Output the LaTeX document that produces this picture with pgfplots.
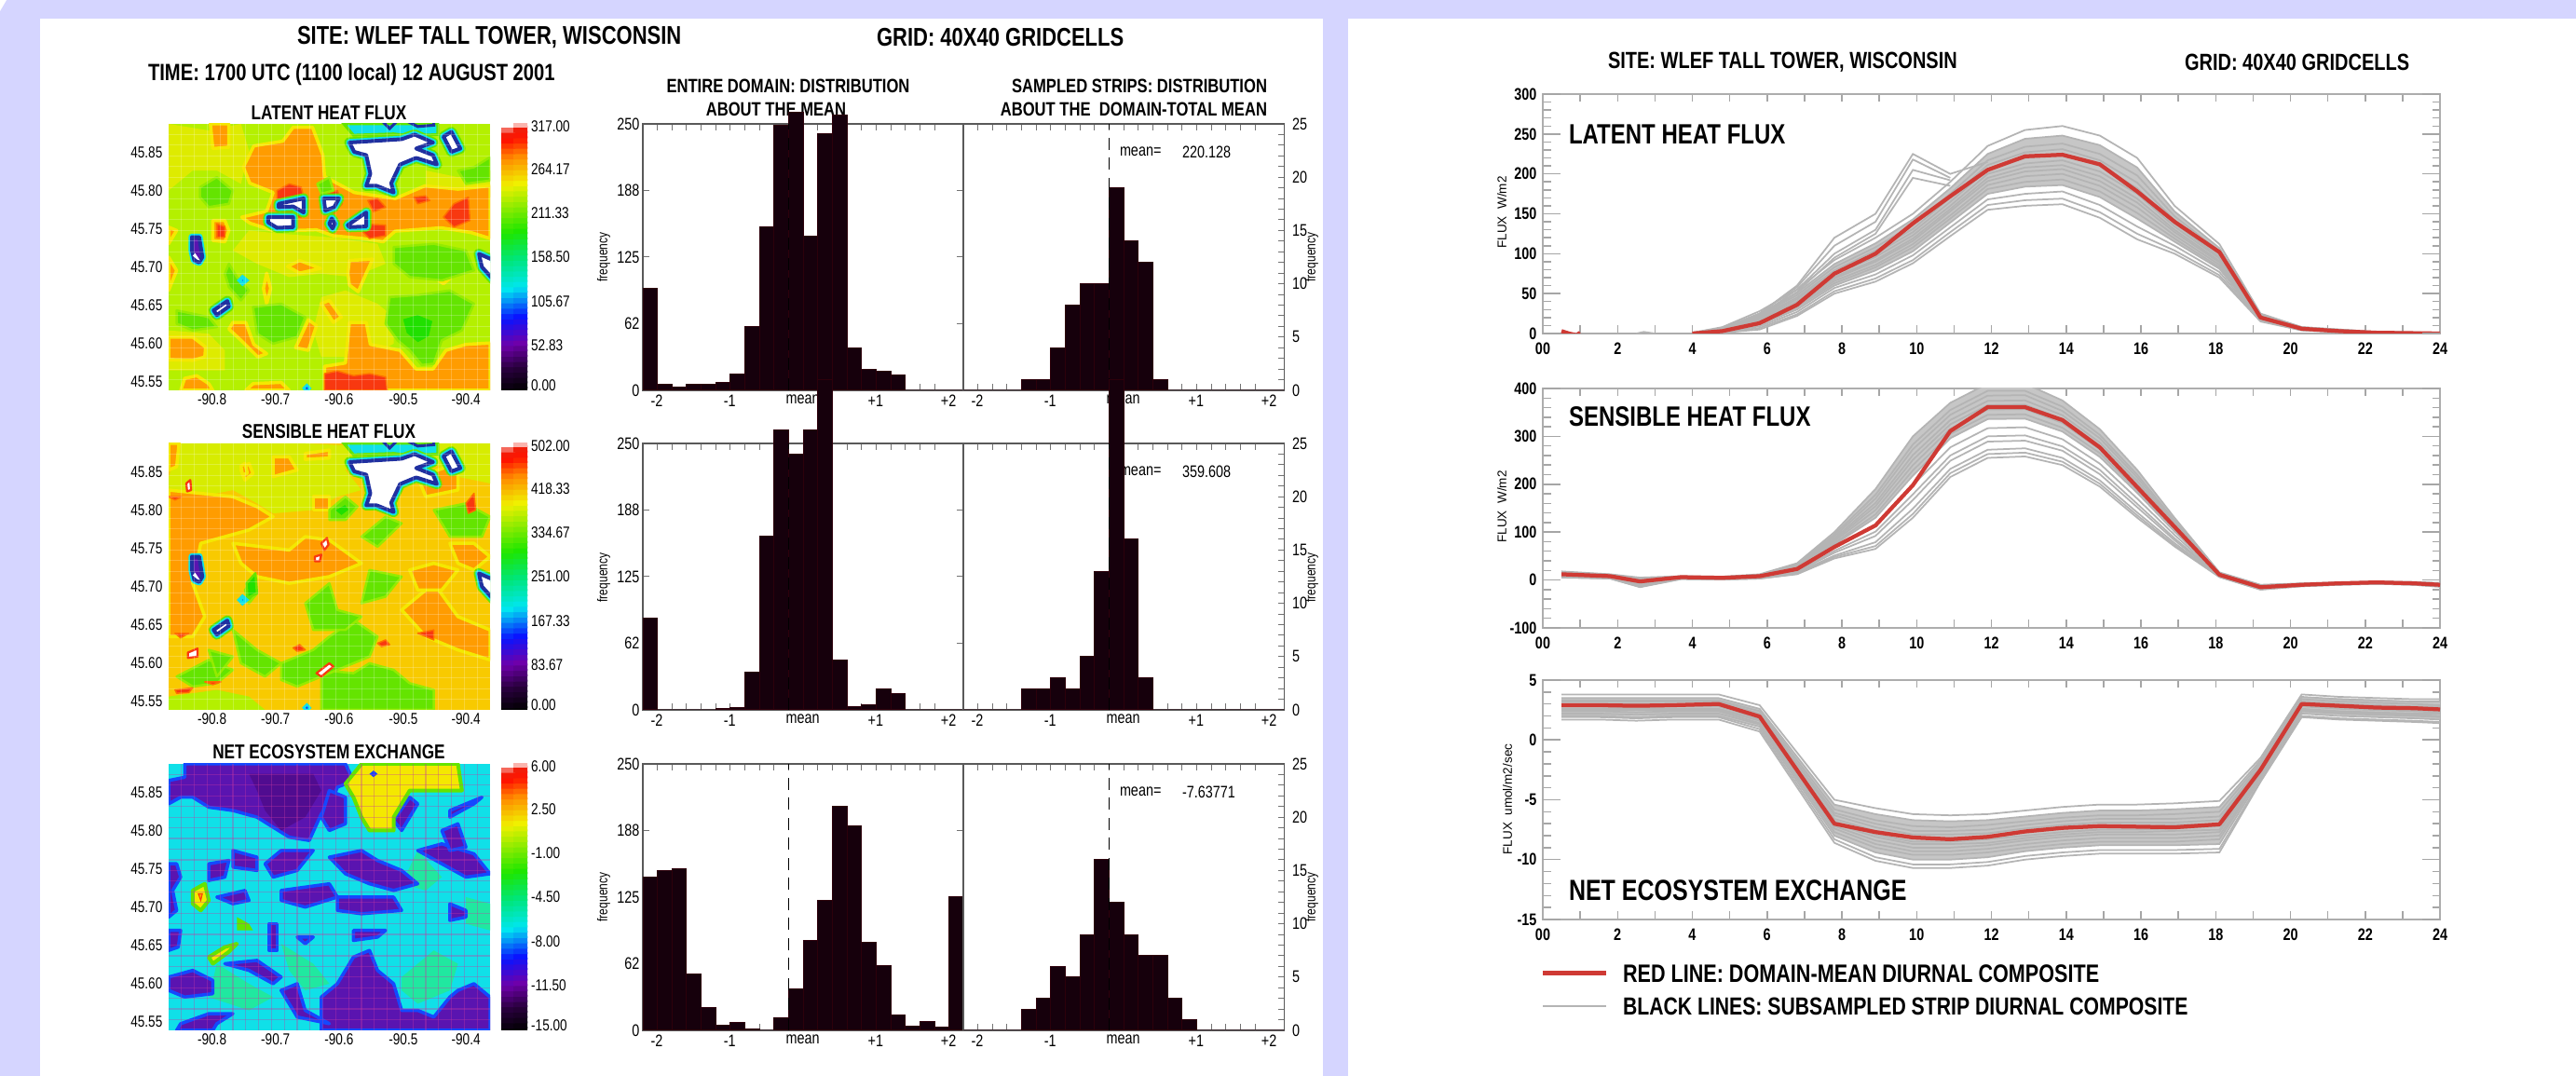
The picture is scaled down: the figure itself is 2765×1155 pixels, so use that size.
\documentclass[border=0pt]{standalone}
\usepackage{fontspec}
\usepackage{pgfplots}
\usepackage{pgfplotstable}
\pgfplotsset{compat=1.18}
\setmainfont{Liberation Sans}
\newfontfamily\cond{Liberation Sans}[FakeStretch=0.8]
\newcommand\fs[1]{\fontsize{#1}{#1}\selectfont}
\definecolor{bgl}{HTML}{D5D5FF}
\definecolor{cOr}{HTML}{FF9C00}
\definecolor{cYe}{HTML}{F4E800}
\definecolor{cLi}{HTML}{B4F000}
\definecolor{cGr}{HTML}{64E400}
\definecolor{cBg}{HTML}{20E000}
\definecolor{cRe}{HTML}{F83810}
\definecolor{cNa}{HTML}{2030A0}
\definecolor{cCy}{HTML}{10E0E8}
\definecolor{cPu}{HTML}{5A14B0}
\definecolor{cDp}{HTML}{500C90}
\definecolor{cBl}{HTML}{1448FF}
\definecolor{cAq}{HTML}{20E8A0}
\definecolor{cBar}{HTML}{16000C}
\definecolor{cLine}{HTML}{B4B4B4}
\definecolor{cCore}{HTML}{C6C6C6}
\definecolor{cRed}{HTML}{CF3A34}
\pgfplotsset{
  colormap={idl}{rgb255(0)=(0,0,0); rgb255(90)=(40,0,60); rgb255(180)=(110,0,170); rgb255(280)=(10,20,255); rgb255(390)=(0,230,240); rgb255(500)=(0,230,120); rgb255(600)=(30,230,0); rgb255(780)=(240,240,0); rgb255(880)=(255,140,0); rgb255(950)=(255,20,0); rgb255(985)=(240,30,10); rgb255(1000)=(255,255,255)},
  mapax/.style={scale only axis,width=69pt,height=57.2pt,xmin=0,xmax=40,ymin=0,ymax=40,axis on top,
    xtick={5.4,13.3,21.2,29.2,37},xticklabels={-90.8,-90.7,-90.6,-90.5,-90.4},
    ytick={1.26,7,12.8,18.5,24.2,30,35.7},yticklabels={45.55,45.60,45.65,45.70,45.75,45.80,45.85},
    minor xtick={1.6,3.2,...,38.4},minor ytick={1.6,3.2,...,38.4},xminorgrids,yminorgrids,
    minor grid style={white,opacity=.22,line width=.2pt},
    axis line style={draw=none},tick style={draw=none},major tick length=0pt,minor tick length=0pt,
    tick label style={font=\cond\fs{3.4}},xticklabel shift=-2.8pt,yticklabel shift=-2.2pt},
  cbax/.style={scale only axis,width=5.6pt,height=57.2pt,xmin=0,xmax=1,ymin=0,ymax=1,
    xtick=\empty,ytick={.017,.17,.333,.5,.667,.83,.99},yticklabel pos=right,ytick pos=right,
    axis line style={draw=none},tick style={draw=none},major tick length=0pt,
    tick label style={font=\cond\fs{3.4}},yticklabel shift=-2.7pt,yticklabel style={anchor=west}},
  hb/.style={scale only axis,width=68.9pt,height=57.2pt,xmin=-2,xmax=2.4,ymin=0,clip=false,
    xtick={-2,-1,0,1,2},xticklabels={-2,-1,mean,+1,+2},minor x tick num=4,
    tick align=inside,xtick pos=both,xticklabel pos=bottom,
    major tick length=1.4pt,minor tick length=1.4pt,
    axis line style={line width=.3pt,draw=black!65},
    tick style={line width=.2pt,draw=black!55},
    tick label style={font=\cond\fs{3.6}},xticklabel style={xshift=3pt},xticklabel shift=-2.6pt},
  hleft/.style={hb,ymax=250,ytick={0,62.5,125,187.5,250},yticklabels={0,62,125,188,250},ytick pos=both,yticklabel pos=left,yticklabel shift=-2.8pt},
  hright/.style={hb,ymax=25,ytick={0,5,10,15,20,25},yticklabels={0,5,10,15,20,25},minor y tick num=4,ytick pos=right,yticklabel pos=right,yticklabel shift=-1.8pt},
  bars/.style={ybar interval,fill=cBar,draw=cBar!90!red,line width=.2pt},
  dsh/.style={black,line width=.3pt,dash pattern=on 2.6pt off 1.7pt},
  rp/.style={scale only axis,width=192.6pt,height=51.4pt,xmin=0,xmax=24,axis line style={line width=.4pt,draw=black!32},
    xtick={0,2,...,24},xticklabels={00,2,4,6,8,10,12,14,16,18,20,22,24},minor x tick num=1,
    tick align=inside,xtick pos=both,ytick pos=both,xticklabel pos=bottom,yticklabel pos=left,
    major tick length=1.7pt,minor tick length=1.7pt,tick style={line width=.3pt,draw=black!35},
    tick label style={font=\cond\bfseries\fs{3.6}},xticklabel shift=-1.5pt,yticklabel shift=-2.2pt},
  rp2/.style={scale only axis,width=192.6pt,height=51.4pt,xmin=0,xmax=24,axis line style={draw=none},
    xtick=\empty,yticklabels={},tick align=inside,ytick pos=both,major tick length=3.8pt,tick style={line width=.3pt,draw=black!35}},
  gl/.style={cLine,line width=.35pt},
  core/.style={fill=cCore,draw=none},
  rl/.style={cRed,line width=.85pt,line join=round},
  org/.style={fill=cOr,draw=cYe,line width=.7pt,line join=round},
  redb/.style={fill=cRe,draw=cOr!70!red,line width=.3pt,line join=round},
  yel/.style={fill=cYe!65!cLi,draw=none},
  lim/.style={fill=cLi,draw=none},
  grn/.style={fill=cGr,draw=cLi!60!cGr,line width=.5pt,line join=round},
  bgr/.style={fill=cBg,draw=cGr,line width=.5pt,line join=round},
  hole/.style={fill=white,draw=cNa,line width=.8pt,line join=round,
     preaction={draw=cGr,line width=2.2pt},preaction={draw=cCy,line width=1.5pt}},
  hre/.style={fill=white,draw=cRe,line width=.45pt,line join=round},
  nhole/.style={fill=cPu,draw=cNa,line width=.8pt,line join=round,preaction={draw=cCy,line width=1.5pt}},
  pur/.style={fill=cPu,draw=cBl,line width=.7pt,line join=round},
  dpr/.style={fill=cDp,draw=none},
  aqu/.style={fill=cAq,draw=none},
  ylw/.style={fill=cYe,draw=cGr,line width=.8pt,line join=round},
}
\newcommand\PP[2]{\addplot[#1] coordinates {#2} --cycle;}
\newcommand\CB{\addplot[matrix plot*,shader=flat,draw=none,mesh/cols=2,point meta=explicit,point meta min=0,point meta max=1] coordinates {
(0,0)[0](1,0)[0](0,.02)[.02](1,.02)[.02](0,.04)[.04](1,.04)[.04](0,.06)[.06](1,.06)[.06](0,.08)[.08](1,.08)[.08](0,.1)[.1](1,.1)[.1](0,.12)[.12](1,.12)[.12](0,.14)[.14](1,.14)[.14](0,.16)[.16](1,.16)[.16](0,.18)[.18](1,.18)[.18](0,.2)[.2](1,.2)[.2](0,.22)[.22](1,.22)[.22](0,.24)[.24](1,.24)[.24](0,.26)[.26](1,.26)[.26](0,.28)[.28](1,.28)[.28](0,.3)[.3](1,.3)[.3](0,.32)[.32](1,.32)[.32](0,.34)[.34](1,.34)[.34](0,.36)[.36](1,.36)[.36](0,.38)[.38](1,.38)[.38](0,.4)[.4](1,.4)[.4](0,.42)[.42](1,.42)[.42](0,.44)[.44](1,.44)[.44](0,.46)[.46](1,.46)[.46](0,.48)[.48](1,.48)[.48](0,.5)[.5](1,.5)[.5](0,.52)[.52](1,.52)[.52](0,.54)[.54](1,.54)[.54](0,.56)[.56](1,.56)[.56](0,.58)[.58](1,.58)[.58](0,.6)[.6](1,.6)[.6](0,.62)[.62](1,.62)[.62](0,.64)[.64](1,.64)[.64](0,.66)[.66](1,.66)[.66](0,.68)[.68](1,.68)[.68](0,.7)[.7](1,.7)[.7](0,.72)[.72](1,.72)[.72](0,.74)[.74](1,.74)[.74](0,.76)[.76](1,.76)[.76](0,.78)[.78](1,.78)[.78](0,.8)[.8](1,.8)[.8](0,.82)[.82](1,.82)[.82](0,.84)[.84](1,.84)[.84](0,.86)[.86](1,.86)[.86](0,.88)[.88](1,.88)[.88](0,.9)[.9](1,.9)[.9](0,.92)[.92](1,.92)[.92](0,.94)[.94](1,.94)[.94](0,.96)[.96](1,.96)[.96](0,.98)[.98](1,.98)[.98](0,1)[1](1,1)[1]};}
\newcommand\holes{%
 \PP{fill=cCy,draw=cGr,line width=.6pt}{(21.8,40)(33.5,40)(33.5,38.4)(30,38.2)(28,38.5)(23,38.3)}
 \PP{hole}{(22.5,37.2)(29,37.7)(30.6,38.4)(32.9,37.2)(30.8,36.3)(32.9,35.3)(33.4,33.9)(30.8,34.9)(28.8,33.9)(27.7,31.1)(28,29.7)(25.9,30.7)(24.6,30.7)(25.1,32.5)(24.6,35.3)(23.1,35.8)}
 \PP{hole}{(34.2,38.1)(35.2,38.8)(36.3,36.3)(35.2,35.8)}
 \PP{draw=cNa,line width=.6pt,fill=none}{(26.5,40.5)(27.5,39.3)(28.5,40.5)}
 \PP{draw=cNa,line width=.6pt,fill=none}{(29.5,40.5)(31,39.6)(33,39.8)(33,40.5)}
 \PP{hole}{(38.6,20.5)(40.5,19.5)(40.5,16.5)(39,18.5)}
 \PP{hole}{(5.6,12)(7.3,13.4)(7.5,12.6)(6,11.3)}
 \PP{nhole}{(2.9,23)(3.8,23)(4.2,20)(3.8,19.2)(3.2,19.5)(2.9,21)}
 \PP{fill=white,draw=none}{(3,20.2)(3.6,19.6)(3.9,19.5)(3.3,20.6)}
 \PP{fill=cBl,draw=cCy,line width=.8pt}{(8.8,16.5)(9.2,17)(9.7,16.5)(9.2,16)}
}
% diurnal composites
\pgfplotstableread{
4 0 0 0 0 0 0 0 0 0 0 0 0 1 1
4.8 1 1 2 3 3 4 4 4 5 5 6 6 7 8
5.8 5 7 9 11 12 14 15 16 18 19 21 23 25 28
6.8 22 24 27 30 33 35 37 38 40 43 45 48 51 55
7.8 50 53 57 60 63 66 69 71 74 76 79 83 87 92
8.9 65 69 74 79 83 86 90 92 96 100 104 108 113 120
9.9 88 92 98 103 108 112 116 119 123 127 131 136 143 150
10.9 122 127 133 139 144 148 153 156 160 165 170 175 182 190
11.9 155 161 168 175 181 186 191 195 200 205 211 217 225 235
12.9 160 167 175 184 190 197 203 208 213 220 227 234 244 255
13.9 162 169 178 186 193 200 206 211 217 224 231 238 248 260
14.9 145 152 161 171 178 185 191 197 203 210 217 225 236 248
15.9 118 125 134 144 151 158 164 169 175 182 189 198 208 220
16.9 100 104 110 115 119 123 127 130 134 138 142 147 153 160
18.1 70 73 77 81 83 86 89 91 94 96 99 103 107 112
19.2 15 16 17 18 18 19 19 20 21 21 22 23 24 25
20.3 4 4 5 5 5 6 6 6 6 7 7 7 8 8
21.3 2 2 2 3 3 3 3 3 4 4 4 4 5 5
22.3 0 0 0 1 1 1 1 1 1 1 1 2 2 2
24 0 0 0 0 0 0 0 0 0 0 0 0 1 1
}\tabL
\pgfplotstableread{
0.5 5 6 6 8 9 10 12 13 13 14 15 16 17 18
1.8 3 3 4 5 6 7 8 8 9 9 10 11 11 12
2.6 -15 -14 -13 -11 -9 -7 -5 -3 -2 -1 0 2 3 5
3.7 2 2 3 3 4 4 5 5 6 6 7 7 7 8
4.8 1 1 2 2 3 3 4 4 5 5 6 6 6 7
5.8 3 3 4 5 6 7 8 8 9 9 10 11 11 12
6.8 12 13 15 17 19 21 24 25 27 28 30 31 33 35
7.8 45 48 51 57 61 67 74 77 81 84 87 91 95 100
8.9 65 71 79 92 101 115 130 137 146 154 161 170 178 190
9.9 130 138 149 167 179 198 218 229 240 251 261 273 283 300
10.9 215 223 232 249 260 277 296 305 316 325 334 345 355 370
11.9 255 263 272 289 300 317 336 345 356 365 374 385 395 410
12.9 258 266 275 291 302 319 337 346 357 366 375 386 395 410
13.9 240 247 255 270 279 294 310 318 328 336 344 353 362 375
14.9 195 201 208 221 230 243 257 265 273 280 287 296 303 315
15.9 130 135 141 152 159 170 182 188 195 201 207 214 220 230
16.9 70 73 77 83 87 94 101 105 109 113 116 120 124 130
18.1 6 7 7 8 9 10 11 12 13 13 14 14 15 16
19.2 -20 -20 -19 -18 -17 -16 -15 -14 -14 -13 -12 -12 -11 -10
20.3 -13 -13 -12 -12 -11 -11 -10 -10 -9 -9 -8 -8 -8 -7
21.3 -10 -10 -9 -9 -9 -8 -7 -7 -7 -6 -6 -6 -6 -5
22.3 -8 -8 -7 -7 -7 -6 -5 -5 -5 -4 -4 -4 -4 -3
23.3 -10 -10 -9 -9 -8 -8 -7 -7 -6 -6 -5 -5 -5 -4
24 -14 -14 -13 -12 -12 -11 -10 -9 -9 -8 -8 -7 -7 -6
}\tabS
\pgfplotstableread{
0.5 1.7 1.9 2.0 2.2 2.4 2.5 2.6 2.8 2.9 3.0 3.2 3.3 3.5 3.8
1.5 1.7 1.9 2.0 2.2 2.4 2.5 2.6 2.8 2.9 3.0 3.2 3.3 3.5 3.8
2.5 1.6 1.8 1.9 2.1 2.3 2.5 2.6 2.7 2.9 3.0 3.2 3.3 3.5 3.8
3.5 1.7 1.9 2.0 2.2 2.4 2.5 2.6 2.8 2.9 3.0 3.2 3.3 3.5 3.8
4.7 1.7 1.9 2.0 2.2 2.4 2.5 2.6 2.8 2.9 3.0 3.2 3.3 3.5 3.8
5.8 0.7 0.9 1.1 1.3 1.4 1.6 1.7 1.8 1.9 2.1 2.2 2.4 2.6 2.9
7.8 -8.6 -8.3 -8.0 -7.7 -7.4 -7.2 -7.0 -6.8 -6.6 -6.3 -6.1 -5.8 -5.4 -5.0
8.9 -10.1 -9.8 -9.4 -9.0 -8.7 -8.4 -8.1 -7.9 -7.6 -7.3 -7.0 -6.7 -6.2 -5.7
9.9 -10.7 -10.4 -10.0 -9.6 -9.3 -9.0 -8.7 -8.5 -8.2 -7.9 -7.6 -7.2 -6.7 -6.2
10.9 -10.7 -10.4 -10.0 -9.6 -9.3 -9.0 -8.7 -8.5 -8.2 -7.9 -7.6 -7.3 -6.8 -6.3
11.9 -10.5 -10.2 -9.8 -9.4 -9.1 -8.8 -8.6 -8.3 -8.1 -7.8 -7.5 -7.1 -6.7 -6.2
12.9 -10.0 -9.7 -9.3 -9.0 -8.7 -8.4 -8.2 -8.0 -7.7 -7.4 -7.1 -6.8 -6.4 -5.9
13.9 -9.7 -9.4 -9.0 -8.7 -8.4 -8.1 -7.9 -7.7 -7.4 -7.1 -6.8 -6.5 -6.1 -5.6
14.9 -9.5 -9.2 -8.8 -8.5 -8.2 -7.9 -7.7 -7.5 -7.2 -6.9 -6.6 -6.3 -5.9 -5.4
15.9 -9.5 -9.2 -8.8 -8.5 -8.2 -7.9 -7.7 -7.5 -7.2 -6.9 -6.6 -6.3 -5.9 -5.4
16.9 -9.5 -9.2 -8.8 -8.5 -8.2 -7.9 -7.6 -7.4 -7.1 -6.9 -6.6 -6.2 -5.8 -5.3
18.1 -9.4 -9.1 -8.7 -8.3 -8.0 -7.7 -7.5 -7.2 -7.0 -6.7 -6.4 -6.0 -5.6 -5.1
19.2 -3.5 -3.4 -3.2 -3.0 -2.9 -2.7 -2.6 -2.5 -2.4 -2.2 -2.1 -1.9 -1.7 -1.5
20.3 1.9 2.0 2.2 2.4 2.5 2.6 2.8 2.9 3.0 3.1 3.2 3.4 3.6 3.8
21.3 1.7 1.8 2.0 2.2 2.3 2.4 2.6 2.7 2.8 2.9 3.0 3.2 3.4 3.6
22.3 1.6 1.7 1.9 2.1 2.2 2.3 2.5 2.6 2.7 2.8 2.9 3.1 3.3 3.5
23.3 1.5 1.6 1.8 2.0 2.1 2.2 2.4 2.5 2.6 2.7 2.8 3.0 3.2 3.4
24 1.4 1.5 1.7 1.9 2.0 2.2 2.3 2.4 2.5 2.7 2.8 2.9 3.2 3.4
}\tabN
\begin{document}
\begin{tikzpicture}[x=0.2pt,y=-0.2pt]
\useasboundingbox (0,0) rectangle (2765,1155);
\fill[bgl] (0,0) rectangle (2765,1155);
\fill[white] (0,0)--(7,0)--(0,12)--cycle;
\fill[white] (43,20) rectangle (1420,1155);
\fill[white] (1447,20) rectangle (2765,1155);
% left panel texts
\begin{scope}[every node/.style={inner sep=0pt,font=\cond\bfseries}]
\node[anchor=west,font=\cond\bfseries\fs{5.5}] at (318,40) {SITE: WLEF TALL TOWER, WISCONSIN};
\node[anchor=west,font=\cond\bfseries\fs{5.5}] at (940,40) {GRID: 40X40 GRIDCELLS};
\node[anchor=west,font=\cond\bfseries\fs{5.05}] at (158,80) {TIME: 1700 UTC (1100 local) 12 AUGUST 2001};
\node[font=\cond\bfseries\fs{4.3}] at (353,121) {LATENT HEAT FLUX};
\node[font=\cond\bfseries\fs{4.3}] at (353,463) {SENSIBLE HEAT FLUX};
\node[font=\cond\bfseries\fs{4.3}] at (353,807) {NET ECOSYSTEM EXCHANGE};
\node[font=\cond\bfseries\fs{4.15}] at (846,92) {ENTIRE DOMAIN: DISTRIBUTION};
\node[font=\cond\bfseries\fs{4.15}] at (833,117) {ABOUT THE MEAN};
\node[anchor=east,font=\cond\bfseries\fs{4.15}] at (1361,92) {SAMPLED STRIPS: DISTRIBUTION};
\node[anchor=east,font=\cond\bfseries\fs{4.15}] at (1361,117) {ABOUT THE\ \ DOMAIN-TOTAL MEAN};
\foreach \yy/\ee/\tt in {163/{mean=}/220.128,506/{mean=}/359.608,850/{mean=}/-7.63771}{
 \node[anchor=west,font=\cond\fs{3.6}] at (1201,\yy) {\ee};
 \node[anchor=west,font=\cond\fs{3.6}] at (1268,\yy) {\tt};
}
\foreach \yy in {276,620,963}{
 \node[rotate=90,font=\cond\fs{3}] at (648,\yy) {frequency};
 \node[rotate=90,font=\cond\fs{3}] at (1408,\yy) {frequency};
}
\end{scope}
% maps
\begin{axis}[mapax,at={(181*0.2pt,-419*0.2pt)},anchor=south west,axis background/.style={fill=cLi}]
\PP{yel}{(0,40)(5,39)(9,40)(10,36)(9,31)(6,33)(3,33)(0,30)}
\PP{yel}{(32,33)(36,32)(40,33)(40,29)(32,29)}
\PP{yel}{(10,24)(14,23.5)(20,23)(26,22)(27,19)(23,17)(19,17.5)(15,17)(11,19)(8,21)}
\PP{yel}{(19,14)(22,15)(26,13)(28,11)(28,7)(25,5)(19,5)(18,9)}
\PP{yel}{(0,9)(5,8.5)(7,6)(7,3)(3,3)(0,3)}
\PP{org}{(15.5,39.5)(17.9,39.5)(19.2,35.3)(19.4,32.1)(23.1,29.7)(28.2,28.8)(31.9,30.7)(36,30.2)(40,30.7)(40,22.8)(37.6,23.7)(33.9,24.4)(28.2,23.9)(26.7,22.3)(24.1,22.8)(20.5,23.2)(18.4,24.1)(13.2,23.9)(10.1,25.1)(9.1,26)(12.2,26.9)(13,29.7)(10.1,31.1)(9.3,33.5)(10.6,36.7)(14.2,37.4)}
\PP{org}{(5.2,40)(7.5,40)(7.5,36.5)(5.5,36.3)}
\PP{org}{(5.5,25.5)(7,25.5)(7.5,24)(7,22.3)(5.5,22.5)}
\PP{org}{(0,8)(3,8)(4.6,6.5)(4.5,5)(3,4.5)(0,4.6)}
\PP{org}{(19.4,0)(19.4,3.6)(22,4.1)(22.5,10.2)(24.6,10.2)(25.1,6.9)(28.8,6)(30.8,3.2)(32.9,3.2)(34.5,6)(37,6.9)(40,7.1)(40,0)}
\PP{org}{(8,10.2)(9.6,10.2)(10.6,6.9)(12.2,5.5)(11.1,5)(9.1,7.4)(7.5,9.2)}
\PP{org}{(17.4,10.6)(18.4,9.7)(17.4,6)(15.8,6.4)}
\PP{org}{(22.5,19.5)(25.4,19.7)(24.6,17.6)(23.6,14.8)(22.5,15.8)(22.3,17.6)}
\PP{org}{(14.8,18.6)(16.3,19.5)(18.9,18.3)(16.3,17.6)}
\PP{org}{(12.2,17.6)(12.7,15.3)(12.2,13)(11.8,15.3)}
\PP{org}{(0,24.5)(1,24)(0,22)}
\PP{org}{(0,20)(1,18)(0,15)}
\PP{org}{(1.5,0)(2,1.8)(3.5,2.2)(5,1)(5.5,0)}
\PP{org}{(9.6,0)(10.5,1)(14,1.2)(15,0)}
\PP{org}{(33,17)(34.2,17.8)(35.2,17)(34.2,16)}
\PP{org}{(19,13)(20,13.5)(21.5,11)(20.5,10.2)}
\PP{redb}{(19.4,0)(19.4,2.5)(21,2.9)(23,2.2)(25,2.5)(27,2)(27.2,0)}
\PP{redb}{(13.5,30)(15,31)(16.5,30.5)(17,28)(16.5,26)(13.5,26)}
\PP{redb}{(19.6,29.5)(21,30)(21.6,28)(20.5,26.5)(19.4,27.5)}
\PP{redb}{(24.8,28.5)(26,28.8)(27,27.5)(25.5,26.8)}
\PP{redb}{(34.2,26)(35.5,28)(37.3,29)(37.5,25.5)(35.5,24.5)}
\PP{redb}{(30.5,29)(32,29.2)(32.5,28.5)(31,28)}
\PP{redb}{(24,25)(27,24.8)(27,23.2)(25,22.8)(24,24)}
\PP{redb}{(6,25)(7,24.6)(7,23)(6,23)}
\PP{grn}{(3.9,30.5)(6,32)(8,30)(7.5,28)(5,27.5)(3.9,29)}
\PP{grn}{(27.5,14)(31,14.3)(35,15)(38,13)(36.5,9)(34,7.5)(33,4)(31.5,3.8)(30,6)(28.5,7.5)(27,10)}
\PP{bgr}{(29,10.8)(31,11.5)(33,10.5)(32.5,8)(31,7)(29.5,8.5)}
\PP{grn}{(10.5,12.5)(14,13)(17,11)(16,8)(13,7)(11,8.5)}
\PP{grn}{(1,12)(5,11)(6,9.5)(3,9)(1,10)}
\PP{grn}{(7.5,19)(8.5,17)(10,15)(9,13.5)(7.5,15.5)(7,17.5)}
\PP{grn}{(28,21.5)(33,22)(37,21)(38,18)(34,16.5)(30,17)(28,19)}
\PP{grn}{(36,33)(38,33.5)(40,35)(40,31.5)(37,31)}
\PP{grn}{(18.5,31)(20,32)(20.5,30)(19,29.5)}
\holes
\PP{hole}{(12.4,26)(15.5,26)(15.5,24.5)(13.5,24.4)(12.4,25.2)}
\PP{hole}{(13.7,28)(16.8,28.8)(16.8,26.7)(15.5,27.6)(13.7,27.5)}
\PP{hole}{(19.3,28.8)(21.2,28.8)(20.6,27.5)(19.5,27)}
\PP{hole}{(22.3,24.8)(24.6,26.7)(24.6,24.6)(22.5,24.5)}
\PP{hole}{(20.3,25.8)(20.7,25)(20.4,24.3)(20,25)}
\PP{fill=cBl,draw=cCy,line width=.5pt}{(16.8,.3)(17.2,.8)(17.6,.3)(17.2,-.2)}
\end{axis}
\begin{axis}[cbax,at={(538*0.2pt,-419*0.2pt)},anchor=south west,yticklabels={0.00,52.83,105.67,158.50,211.33,264.17,317.00}]
\CB
\end{axis}
\begin{axis}[mapax,at={(181*0.2pt,-762*0.2pt)},anchor=south west,axis background/.style={fill=cYe!60!cOr}]
\PP{fill=cYe!55!cLi,draw=none}{(0,35)(1.5,40)(17,40)(25,39.5)(22,36)(24,33)(21,32)(18,30)(13,29.5)(11,31)(8,33)(4,32)(0,33)}
\PP{fill=cYe!55!cLi,draw=none}{(30,40)(40,40)(40,34)(36,35)(33,37)}
\PP{org}{(0,40)(1.3,40)(1,36.5)(0,36)}
\PP{org}{(0,33)(8,32)(11,30.5)(13,29)(10,27)(7,26)(4,25)(3,19)(4.5,14)(3,11)(0,11)}
\PP{org}{(8,25)(15,24)(17,26)(20,25.5)(24,22)(20,20)(15,19)(11,20)(9,22)}
\PP{org}{(29,15)(33,19)(36,14)(40,12)(40,7.5)(36,9)(32,11)}
\PP{org}{(30,21)(33,22)(36,21)(34,18)(31,18)}
\PP{org}{(35,25)(38,25)(40,23)(38,21)(36,22)}
\PP{org}{(13,35)(16,36)(15,38)(13,38)}
\PP{org}{(17,38.5)(20,39)(20,37.8)(17,37.6)}
\PP{org}{(9,36)(10,37)(10.5,35.5)(9.5,34.5)}
\PP{org}{(18,32)(20,32)(20,30)(18,30)}
\PP{org}{(31,35)(36,37)(36,33)(32,32)}
\PP{grn}{(19,0)(19,6)(23,5.5)(25,7)(28,6)(30,4)(33,3)(33,0)}
\PP{grn}{(14,7)(18,9)(20,11)(23,13.5)(26,11)(25,8)(19,5)(16,3.5)(14,4.5)}
\PP{grn}{(8,12)(11,9)(14,7)(12,5)(9,7)}
\PP{grn}{(5,7.5)(8,6)(6,4)(3,3.5)(1,5)}
\PP{fill=cLi,draw=none}{(0,2)(6,3)(10,2)(12,0)(0,0)}
\PP{grn}{(20,30)(22,32)(23.5,30.5)(22,28.5)(20,28.5)}
\PP{bgr}{(20.5,30)(22,31)(22.6,30)(21.5,29)}
\PP{grn}{(24,26)(27,29)(29,28)(26,24.5)}
\PP{grn}{(33,30)(37,31)(40,29)(39,26)(35,26)}
\PP{grn}{(25,21)(29,20)(27,17)(24,16)}
\PP{grn}{(9.5,18)(10.5,19.5)(11,17.5)(10,16)}
\PP{bgr}{(9.7,19)(10.8,20.5)(11,17.5)(9.8,16.8)}
\PP{grn}{(17,16)(20,19)(21,15)(24,14)(22,12)(18,12)}
\PP{grn}{(5,9)(8,8)(6,5)}
\holes
\PP{hre}{(2.4,8.6)(3.6,9.2)(3.6,8)(2.4,7.8)}
\PP{redb}{(0,32)(1.6,32)(.8,31.5)}
\PP{hre}{(2.2,34)(2.7,34.5)(2.8,33)(2.3,32.8)}
\PP{org}{(9,36.6)(9.5,37)(9.8,35.5)(9.2,35.3)}
\PP{redb}{(37,31)(38,32.5)(38.2,30)(37.3,29.5)}
\PP{hre}{(19,25)(19.7,25.8)(19.9,24.8)(19.4,24)}
\PP{hre}{(18.2,23)(19,23.3)(18.8,22.3)(18.2,22.3)}
\PP{hre}{(18.4,5.5)(20,7)(20.5,6.5)(19,5)}
\PP{redb}{(15.5,9.3)(16.3,9.8)(17,9)(16,8.8)}
\PP{redb}{(.8,3)(3,3.3)(2.5,2.6)(1,2.5)}
\PP{redb}{(4.5,4.2)(6.5,4.2)(5.5,3.8)}
\PP{redb}{(.8,11.5)(2.5,11.5)(1.5,10.8)}
\PP{redb}{(26,10)(27,10.5)(27.5,9.8)(26.5,9.5)}
\PP{redb}{(31,11.5)(33,12)(33,10.5)}
\PP{fill=cBl,draw=cCy,line width=.5pt}{(16.8,.3)(17.2,.8)(17.6,.3)(17.2,-.2)}
\end{axis}
\begin{axis}[cbax,at={(538*0.2pt,-762*0.2pt)},anchor=south west,yticklabels={0.00,83.67,167.33,251.00,334.67,418.33,502.00}]
\CB
\end{axis}
\begin{axis}[mapax,at={(181*0.2pt,-1106*0.2pt)},anchor=south west,axis background/.style={fill=cCy},minor grid style={cyan!20!magenta,opacity=.35,line width=.25pt}]
\PP{aqu}{(29,8)(33,12)(36,10)(35,6)(31,4)(29,6)}
\PP{aqu}{(6,10)(5,5)(10,3)(13,5)(10,7)}
\PP{aqu}{(14,13)(18,10)(20,7)(17,6)(15,9)}
\PP{aqu}{(31,27)(34,23)(32,21)(29,22)}
\PP{aqu}{(37,20)(40,19)(40,15)(37,16)}
\PP{pur}{(2,40)(22,40)(23,37.5)(21,36.5)(20,33.5)(19,32.5)(17.5,28.5)(15,29)(13,30.5)(11,32)(8,33)(5,33.5)(3,35)(1.5,35)(0,34)(0,37.5)(2,38)}
\PP{dpr}{(10,38.5)(18,38.5)(19,36)(17,32)(14,30)(12,33)(11,36)}
\PP{pur}{(20,36)(22,35)(22,31)(20,30)(19,32)}
\PP{pur}{(20,26)(24,27)(26,25.5)(29,24)(31,22)(28,21)(25,22)(22,23.5)}
\PP{pur}{(14,27)(18,27)(16,24)(13,23)(12,25)}
\PP{pur}{(8,27)(11,26)(11,24)(8,24.5)}
\PP{pur}{(5,25)(7.5,25.5)(7,23)(5,22.5)}
\PP{pur}{(14,21)(20,22)(21,20)(17,18.5)(14,19.5)}
\PP{pur}{(21,20)(28,20)(29,18)(24,17.5)(21,18)}
\PP{pur}{(31,27)(34,28)(38,26.5)(40,23.5)(37,23)(34,25)}
\PP{pur}{(0,25)(1,25)(1.5,23)(.5,21)(1,18)(0,17)}
\PP{pur}{(0,15)(1.5,15)(1.2,12.5)(0,12)}
\PP{pur}{(0,8)(3,9)(5.5,7.5)(5.5,5.5)(2,5)(0,6)}
\PP{pur}{(1.5,1)(5,2.5)(8,2.5)(6,1)(5.5,0)(1,0)}
\PP{pur}{(7,10)(11,10.5)(14,8)(13,7)(10,9)}
\PP{pur}{(19,0)(19,5)(21,7)(23,11)(25,12)(26,9)(28,7)(29,3)(31,3)(33,2)(35,5)(36,6)(38,7)(40,5)(40,0)}
\PP{pur}{(14,6)(16,7)(17,3)(20,1)(16,2)}
\PP{pur}{(23,15)(27,15)(26,14)(23,13.5)}
\PP{pur}{(35,19)(37,18)(37,17)(35,16.5)}
\PP{pur}{(35,33)(39,35)(38,34)(35,32)}
\PP{pur}{(30,35)(31,34)(29,30)(28,31.5)}
\PP{pur}{(34,30)(36,31)(37,27.5)(35,27)}
\PP{pur}{(12.5,16)(13.5,16)(13.5,12)(12.5,12)}
\PP{pur}{(16,14)(18,14)(17,13)}
\PP{pur}{(6,20)(9.5,21)(10,19.5)(8,19)}
\PP{ylw}{(24,40)(36,40)(36.5,36)(34,36)(30,36)(29,34)(28,32)(28,30)(25,30)(24,32)(23,35)(22,37)}
\PP{fill=cBl,draw=none}{(25,38.5)(25.5,39)(26,38.5)(25.5,38)}
\PP{ylw}{(3,21)(4.5,22)(5,19.5)(4,18)(3,19)}
\PP{fill=cOr,draw=cRe,line width=.2pt}{(3.7,20.5)(4.2,20.5)(4,19.5)}
\PP{ylw}{(5,11)(7,12.5)(8.5,13)(7.5,11.8)(5.5,10)}
\PP{fill=cGr,draw=none}{(8.5,17)(10,16)(10.5,15)(8.5,15)}
\end{axis}
\begin{axis}[cbax,at={(538*0.2pt,-1106*0.2pt)},anchor=south west,yticklabels={-15.00,-11.50,-8.00,-4.50,-1.00,2.50,6.00}]
\CB
\end{axis}
% histograms
\begin{axis}[hleft,at={(690*0.2pt,-419*0.2pt)},anchor=south west]
\addplot[bars] coordinates {(-2,96)(-1.8,6)(-1.6,3)(-1.4,6)(-1.2,6)(-1,7.5)(-0.8,15)(-0.6,60)(-0.4,153)(-0.2,249)(0,261)(0.2,145)(0.4,241)(0.6,258)(0.8,40)(1,20)(1.2,18)(1.4,14.5)(1.6,0)(1.8,0)(2,0)(2.2,0)(2.4,0)};
\addplot[dsh] coordinates {(0,0)(0,250)};
\end{axis}
\begin{axis}[hright,at={(1034*0.2pt,-419*0.2pt)},anchor=south west]
\addplot[bars] coordinates {(-2,0)(-1.8,0)(-1.6,0)(-1.4,0)(-1.2,1)(-1,1)(-0.8,4)(-0.6,8)(-0.4,10)(-0.2,10)(0,19)(0.2,14)(0.4,12)(0.6,1)(0.8,0)(1,0)(1.2,0)(1.4,0)(1.6,0)(1.8,0)(2,0)(2.2,0)(2.4,0)};
\addplot[dsh] coordinates {(0,0)(0,25)};
\end{axis}
\begin{axis}[hleft,at={(690*0.2pt,-762*0.2pt)},anchor=south west]
\addplot[bars] coordinates {(-2,86)(-1.8,0)(-1.6,0)(-1.4,0)(-1.2,0)(-1,1.5)(-0.8,2)(-0.6,35)(-0.4,163)(-0.2,263)(0,240)(0.2,263)(0.4,310)(0.6,47)(0.8,3)(1,5)(1.2,19.5)(1.4,15.5)(1.6,0)(1.8,0)(2,0)(2.2,0)(2.4,0)};
\addplot[dsh] coordinates {(0,0)(0,250)};
\end{axis}
\begin{axis}[hright,at={(1034*0.2pt,-762*0.2pt)},anchor=south west]
\addplot[bars] coordinates {(-2,0)(-1.8,0)(-1.6,0)(-1.4,0)(-1.2,2)(-1,2)(-0.8,3)(-0.6,2)(-0.4,5)(-0.2,13)(0,31)(0.2,16)(0.4,3)(0.6,0)(0.8,0)(1,0)(1.2,0)(1.4,0)(1.6,0)(1.8,0)(2,0)(2.2,0)(2.4,0)};
\addplot[dsh] coordinates {(0,0)(0,25)};
\end{axis}
\begin{axis}[hleft,at={(690*0.2pt,-1106*0.2pt)},anchor=south west]
\addplot[bars] coordinates {(-2,144)(-1.8,150)(-1.6,152)(-1.4,53)(-1.2,21)(-1,4.5)(-0.8,7)(-0.6,1)(-0.4,0)(-0.2,12)(0,39)(0.2,84)(0.4,122)(0.6,210)(0.8,192)(1,83)(1.2,61)(1.4,14)(1.6,4)(1.8,8)(2,3)(2.2,125)(2.4,0)};
\addplot[dsh] coordinates {(0,0)(0,250)};
\end{axis}
\begin{axis}[hright,at={(1034*0.2pt,-1106*0.2pt)},anchor=south west]
\addplot[bars] coordinates {(-2,0)(-1.8,0)(-1.6,0)(-1.4,0)(-1.2,2)(-1,3)(-0.8,6)(-0.6,5)(-0.4,9)(-0.2,16)(0,12)(0.2,9)(0.4,7)(0.6,7)(0.8,3)(1,1)(1.2,0)(1.4,0)(1.6,0)(1.8,0)(2,0)(2.2,0)(2.4,0)};
\addplot[dsh] coordinates {(0,0)(0,25)};
\end{axis}
% right panel
\begin{axis}[rp,at={(1656*0.2pt,-358*0.2pt)},anchor=south west,ymin=0,ymax=300,ytick={0,50,...,300},yticklabels={0,50,100,150,200,250,300},minor y tick num=4]
\PP{core}{(4.8,7)(5.8,25)(6.8,51)(7.8,87)(8.9,113)(9.9,143)(10.9,182)(11.9,225)(12.9,244)(13.9,248)(14.9,236)(15.9,208)(16.9,153)(18.1,107)(19.2,24)(19.2,18)(18.1,81)(16.9,115)(15.9,144)(14.9,171)(13.9,186)(12.9,184)(11.9,175)(10.9,139)(9.9,103)(8.9,79)(7.8,60)(6.8,30)(5.8,11)(4.8,3)}
\pgfplotsinvokeforeach{1,...,14}{\addplot[gl] table[x index=0,y index=#1]{\tabL};}
\addplot[gl] coordinates {(4.8,5)(5.8,25)(6.8,60)(7.8,120)(8.9,150)(9.9,225)(10.9,200)(11.9,215)};
\addplot[gl] coordinates {(4.8,5)(5.8,25)(6.8,58)(7.8,110)(8.9,140)(9.9,218)(10.9,195)};
\addplot[gl] coordinates {(4.8,4)(5.8,22)(6.8,55)(7.8,100)(8.9,130)(9.9,205)(10.9,192)};
\addplot[gl] coordinates {(4.8,4)(5.8,20)(6.8,52)(7.8,95)(8.9,125)(9.9,195)(10.9,185)};
\addplot[gl] coordinates {(2.5,0)(2.7,2)(3,0)};
\addplot[rl] coordinates {(0.5,3)(0.7,0)(0.9,-2)(1,1)};
\addplot[rl] coordinates {(4,0)(4.8,3)(5.8,13)(6.8,36)(7.8,75)(8.9,100)(9.9,138)(10.9,172)(11.9,205)(12.9,222)(13.9,224)(14.9,212)(15.9,178)(16.9,140)(18.1,102)(19.2,20)(20.3,6)(21.3,3)(22.3,1)(24,0)};
\end{axis}
\begin{axis}[rp2,at={(1656*0.2pt,-358*0.2pt)},anchor=south west,ymin=0,ymax=300,ytick={0,50,...,300}]
\end{axis}
\begin{axis}[rp,at={(1656*0.2pt,-674*0.2pt)},anchor=south west,ymin=-100,ymax=400,ytick={-100,0,...,400},yticklabels={-100,0,100,200,300,400},minor y tick num=4]
\PP{core}{(6.8,35)(7.8,100)(8.9,190)(9.9,300)(10.9,370)(11.9,410)(12.9,410)(13.9,375)(14.9,315)(15.9,230)(16.9,130)(18.1,16)(18.1,11)(16.9,101)(15.9,182)(14.9,257)(13.9,310)(12.9,337)(11.9,336)(10.9,296)(9.9,218)(8.9,130)(7.8,74)(6.8,24)}
\pgfplotsinvokeforeach{1,...,14}{\addplot[gl] table[x index=0,y index=#1]{\tabS};}
\addplot[rl] coordinates {(0.5,12)(1.8,8)(2.6,-3)(3.7,6)(4.8,4.5)(5.8,8)(6.8,23)(7.8,69)(8.9,114)(9.9,198)(10.9,311)(11.9,361)(12.9,361)(13.9,334)(14.9,277)(15.9,194)(16.9,111)(18.1,11)(19.2,-15)(20.3,-10)(21.3,-7)(22.3,-5)(23.3,-7)(24,-10)};
\end{axis}
\begin{axis}[rp2,at={(1656*0.2pt,-674*0.2pt)},anchor=south west,ymin=-100,ymax=400,ytick={-100,0,...,400}]
\end{axis}
\begin{axis}[rp,at={(1656*0.2pt,-987*0.2pt)},anchor=south west,ymin=-15,ymax=5,ytick={-15,-10,...,5},yticklabels={-15,-10,-5,0,5},minor y tick num=4]
\PP{core}{(.5,3.5)(4.7,3.5)(5.8,2.6)(7.8,-5.4)(8.9,-6.2)(9.9,-6.7)(10.9,-6.8)(11.9,-6.7)(12.9,-6.4)(13.9,-6.1)(14.9,-5.9)(16.9,-5.8)(18.1,-5.6)(19.2,-1.7)(20.3,3.6)(24,3.2)(24,1.7)(20.3,2.2)(19.2,-3.2)(18.1,-8.7)(16.9,-8.8)(14.9,-8.8)(13.9,-9)(12.9,-9.3)(11.9,-9.8)(10.9,-10)(9.9,-10)(8.9,-9.4)(7.8,-8)(5.8,1.1)(4.7,2)(.5,2)}
\pgfplotsinvokeforeach{1,...,14}{\addplot[gl] table[x index=0,y index=#1]{\tabN};}
\addplot[rl] coordinates {(0.5,2.9)(1.5,2.9)(2.5,2.85)(3.5,2.9)(4.7,3)(5.8,1.95)(7.8,-7)(8.9,-7.7)(9.9,-8.15)(10.9,-8.3)(11.9,-8.1)(12.9,-7.65)(13.9,-7.35)(14.9,-7.2)(15.9,-7.25)(16.9,-7.3)(18.1,-7.05)(19.2,-2.5)(20.3,3)(21.3,2.85)(22.3,2.7)(23.3,2.65)(24,2.55)};
\end{axis}
\begin{axis}[rp2,at={(1656*0.2pt,-987*0.2pt)},anchor=south west,ymin=-15,ymax=5,ytick={-15,-10,...,5}]
\end{axis}
\begin{scope}[every node/.style={inner sep=0pt}]
\node[anchor=west,font=\cond\bfseries\fs{5}] at (1725,67) {SITE: WLEF TALL TOWER, WISCONSIN};
\node[anchor=west,font=\cond\bfseries\fs{5}] at (2344,67) {GRID: 40X40 GRIDCELLS};
\node[anchor=west,font=\cond\bfseries\fs{6}] at (1683,144) {LATENT HEAT FLUX};
\node[anchor=west,font=\cond\bfseries\fs{6}] at (1683,447) {SENSIBLE HEAT FLUX};
\node[anchor=west,font=\cond\bfseries\fs{6.25}] at (1683,956) {NET ECOSYSTEM EXCHANGE};
\node[rotate=90,font=\fs{2.7}] at (1612,228) {FLUX\ \ W/m2};
\node[rotate=90,font=\fs{2.7}] at (1612,544) {FLUX\ \ W/m2};
\node[rotate=90,font=\fs{2.7}] at (1618,858) {FLUX\ \ umol/m2/sec};
\draw[cRed,line width=1pt] (1656,1045)--(1724,1045);
\draw[cLine,line width=.4pt] (1656,1080)--(1724,1080);
\node[anchor=west,font=\cond\bfseries\fs{5.4}] at (1741,1045) {RED LINE: DOMAIN-MEAN DIURNAL COMPOSITE};
\node[anchor=west,font=\cond\bfseries\fs{5.3}] at (1741,1080) {BLACK LINES: SUBSAMPLED STRIP DIURNAL COMPOSITE};
\end{scope}
\end{tikzpicture}
\end{document}
